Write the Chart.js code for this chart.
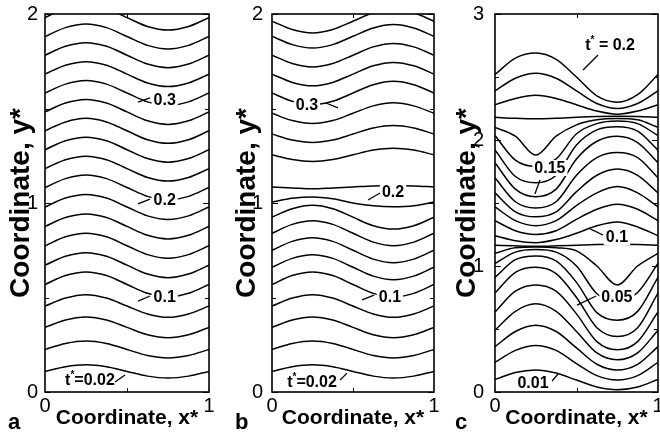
<!DOCTYPE html>
<html><head><meta charset="utf-8">
<script src="https://cdn.jsdelivr.net/npm/chart.js@4/dist/chart.umd.min.js"></script>
<style>
html,body{margin:0;padding:0;background:#fff;width:660px;height:436px;overflow:hidden}
.p{position:absolute;top:0;width:220px;height:436px}
canvas{display:block}
</style></head><body>
<div class="p" style="left:0"><canvas id="ca" width="220" height="436" style="width:220px;height:436px"></canvas></div>
<div class="p" style="left:220px"><canvas id="cb" width="220" height="436" style="width:220px;height:436px"></canvas></div>
<div class="p" style="left:440px"><canvas id="cc" width="220" height="436" style="width:220px;height:436px"></canvas></div>
<script>
// ---------- data ----------
const xGrid = [0, 0.125, 0.25, 0.375, 0.5, 0.625, 0.75, 0.875, 1];
const xTicks = [0, 1];
const yTicksAB = [0, 1, 2];
const yTicksC = [0, 1, 2, 3];

// panel a : contour lines t* = 0.02 ... 0.38 (step 0.02)
const curvesA = [
  [0.109,0.134,0.144,0.134,0.109,0.084,0.074,0.084,0.109],
  [0.225,0.257,0.270,0.257,0.225,0.193,0.180,0.193,0.225],
  [0.342,0.381,0.397,0.381,0.342,0.303,0.287,0.303,0.342],
  [0.455,0.497,0.515,0.497,0.455,0.413,0.395,0.413,0.455],
  [0.569,0.616,0.635,0.616,0.569,0.522,0.503,0.522,0.569],
  [0.671,0.718,0.737,0.718,0.671,0.624,0.605,0.624,0.671],
  [0.774,0.821,0.840,0.821,0.774,0.727,0.708,0.727,0.774],
  [0.876,0.923,0.942,0.923,0.876,0.829,0.810,0.829,0.876],
  [0.979,1.026,1.045,1.026,0.979,0.932,0.913,0.932,0.979],
  [1.082,1.129,1.148,1.129,1.082,1.035,1.016,1.035,1.082],
  [1.182,1.229,1.248,1.229,1.182,1.135,1.116,1.135,1.182],
  [1.282,1.329,1.348,1.329,1.282,1.235,1.216,1.235,1.282],
  [1.382,1.429,1.448,1.429,1.382,1.335,1.316,1.335,1.382],
  [1.482,1.529,1.548,1.529,1.482,1.435,1.416,1.435,1.482],
  [1.582,1.629,1.648,1.629,1.582,1.535,1.516,1.535,1.582],
  [1.682,1.729,1.748,1.729,1.682,1.635,1.616,1.635,1.682],
  [1.782,1.829,1.848,1.829,1.782,1.735,1.716,1.735,1.782],
  [1.881,1.928,1.947,1.928,1.881,1.834,1.815,1.834,1.881],
  [1.981,2.028,2.047,2.028,1.981,1.934,1.915,1.934,1.981]
];
const labelsA = ['t*=0.02', '0.1', '0.2', '0.3'];
const labelAtA = [[0.274,0.063],[0.73,0.503],[0.73,1.016],[0.73,1.545]];
const leaderA = [[0.427,0.053,0.488,0.090],[0.567,0.481,0.640,0.508],[0.567,0.995,0.640,1.021],[0.567,1.534,0.640,1.556]];

// panel b
const curvesB = [
  [0.109,0.134,0.144,0.134,0.109,0.084,0.074,0.084,0.109],
  [0.225,0.257,0.270,0.257,0.225,0.193,0.180,0.193,0.225],
  [0.342,0.381,0.397,0.381,0.342,0.303,0.287,0.303,0.342],
  [0.455,0.497,0.515,0.497,0.455,0.413,0.395,0.413,0.455],
  [0.569,0.616,0.635,0.616,0.569,0.522,0.503,0.522,0.569],
  [0.660,0.707,0.726,0.707,0.660,0.613,0.594,0.613,0.660],
  [0.750,0.797,0.816,0.797,0.750,0.703,0.684,0.703,0.750],
  [0.840,0.887,0.906,0.887,0.840,0.793,0.774,0.793,0.840],
  [0.925,0.970,0.988,0.970,0.925,0.880,0.862,0.880,0.925],
  [1.005,1.025,1.032,1.022,1.000,0.985,0.980,0.985,1.005],
  [1.085,1.080,1.075,1.080,1.085,1.090,1.092,1.090,1.085],
  [1.255,1.230,1.220,1.230,1.255,1.280,1.290,1.280,1.255],
  [1.365,1.333,1.320,1.333,1.365,1.397,1.410,1.397,1.365],
  [1.475,1.436,1.420,1.436,1.475,1.514,1.530,1.514,1.475],
  [1.582,1.538,1.520,1.538,1.582,1.626,1.644,1.626,1.582],
  [1.682,1.638,1.620,1.638,1.682,1.726,1.744,1.726,1.682],
  [1.782,1.738,1.720,1.738,1.782,1.826,1.844,1.826,1.782],
  [1.882,1.838,1.820,1.838,1.882,1.926,1.944,1.926,1.882],
  [1.962,1.918,1.900,1.918,1.962,2.006,2.024,2.006,1.962]
];
const labelsB = ['t*=0.02', '0.1', '0.2', '0.3'];
const labelAtB = [[0.247,0.053],[0.728,0.503],[0.747,1.058],[0.216,1.519]];
const leaderB = [[0.420,0.063,0.463,0.100],[0.556,0.487,0.630,0.513],[0.593,1.016,0.667,1.053],[0.333,1.529,0.407,1.503]];

// panel c
const curvesC = [
  [0.100,0.155,0.175,0.150,0.095,0.040,0.018,0.040,0.100],
  [0.235,0.330,0.370,0.330,0.225,0.130,0.095,0.130,0.235],
  [0.360,0.480,0.530,0.480,0.350,0.220,0.175,0.220,0.360],
  [0.490,0.640,0.700,0.640,0.480,0.310,0.255,0.310,0.490],
  [0.635,0.800,0.850,0.800,0.620,0.400,0.335,0.400,0.635],
  [0.785,0.950,0.990,0.940,0.750,0.510,0.440,0.510,0.785],
  [0.910,1.050,1.080,1.040,0.870,0.630,0.570,0.640,0.910],
  [1.020,1.110,1.130,1.110,1.000,0.780,0.720,0.790,1.020],
  [1.100,1.145,1.150,1.145,1.120,1.000,0.850,1.000,1.100],
  [1.165,1.160,1.157,1.160,1.165,1.170,1.172,1.170,1.165],
  [1.240,1.200,1.185,1.210,1.260,1.320,1.350,1.310,1.240],
  [1.360,1.280,1.250,1.280,1.370,1.450,1.490,1.450,1.360],
  [1.470,1.360,1.320,1.360,1.480,1.580,1.630,1.580,1.470],
  [1.580,1.430,1.390,1.430,1.590,1.720,1.770,1.720,1.580],
  [1.700,1.510,1.460,1.510,1.720,1.860,1.900,1.860,1.700],
  [1.820,1.610,1.550,1.610,1.850,1.990,2.030,1.980,1.820],
  [1.920,1.710,1.660,1.720,1.960,2.080,2.105,2.070,1.920],
  [2.035,1.840,1.790,1.850,2.050,2.130,2.150,2.130,2.035],
  [2.100,2.030,1.880,2.030,2.120,2.160,2.170,2.160,2.100],
  [2.180,2.172,2.168,2.172,2.180,2.186,2.188,2.186,2.180],
  [2.280,2.330,2.355,2.330,2.280,2.230,2.205,2.230,2.280],
  [2.390,2.490,2.530,2.490,2.390,2.290,2.250,2.290,2.390],
  [2.520,2.650,2.690,2.640,2.500,2.350,2.300,2.360,2.520]
];
const labelsC = ['0.01', '0.05', '0.1', '0.15', 't* = 0.2'];
const labelAtC = [[0.233,0.071],[0.748,0.754],[0.748,1.230],[0.337,1.778],[0.706,2.754]];
const leaderC = [[0.350,0.087,0.387,0.143],[0.503,0.690,0.620,0.762],[0.583,1.294,0.663,1.246],[0.276,1.683,0.245,1.571],[0.632,2.675,0.540,2.556]];

// ---------- drawing ----------
const FONT = "'Liberation Sans', Arial, Helvetica, sans-serif";

const deco = {
  id: 'deco',
  afterDatasetsDraw(chart, args, o) {
    const ctx = chart.ctx, a = chart.chartArea, sx = chart.scales.x, sy = chart.scales.y;
    ctx.save();
    // labels on curves
    o.texts.forEach((t, i) => {
      const px = sx.getPixelForValue(o.at[i][0]), py = sy.getPixelForValue(o.at[i][1]);
      const parts = t.split('*');
      ctx.font = 'bold 16px ' + FONT;
      const w0 = ctx.measureText(parts[0]).width;
      let ws = 0, w1 = 0;
      if (parts.length > 1) {
        ctx.font = 'bold 10px ' + FONT; ws = ctx.measureText('*').width;
        ctx.font = 'bold 16px ' + FONT; w1 = ctx.measureText(parts[1]).width;
      }
      const W = w0 + ws + w1;
      ctx.fillStyle = '#fff';
      ctx.fillRect(px - W / 2 - 2, py - 8, W + 4, 16);
      const L = o.leaders[i];
      ctx.strokeStyle = '#000'; ctx.lineWidth = 1.3;
      ctx.beginPath();
      ctx.moveTo(sx.getPixelForValue(L[0]), sy.getPixelForValue(L[1]));
      ctx.lineTo(sx.getPixelForValue(L[2]), sy.getPixelForValue(L[3]));
      ctx.stroke();
      ctx.fillStyle = '#000'; ctx.textBaseline = 'middle'; ctx.textAlign = 'left';
      let cx = px - W / 2;
      ctx.font = 'bold 16px ' + FONT; ctx.fillText(parts[0], cx, py + 1); cx += w0;
      if (parts.length > 1) {
        ctx.font = 'bold 10px ' + FONT; ctx.fillText('*', cx, py - 5); cx += ws;
        ctx.font = 'bold 16px ' + FONT; ctx.fillText(parts[1], cx, py + 1);
      }
    });
    // frame
    ctx.strokeStyle = '#000'; ctx.lineWidth = 1.6;
    ctx.strokeRect(a.left, a.top, a.right - a.left, a.bottom - a.top);
    // inward tick marks
    ctx.lineWidth = 1;
    for (let v = sy.min; v <= sy.max + 1e-9; v += 0.5) {
      const p = Math.round(sy.getPixelForValue(v)) + 0.5;
      const len = (Math.abs(v - Math.round(v)) < 1e-9) ? 6 : 4;
      ctx.beginPath();
      ctx.moveTo(a.left, p); ctx.lineTo(a.left + len, p);
      ctx.moveTo(a.right, p); ctx.lineTo(a.right - len, p);
      ctx.stroke();
    }
    const pm = Math.round(sx.getPixelForValue(0.5)) + 0.5;
    ctx.beginPath();
    ctx.moveTo(pm, a.bottom); ctx.lineTo(pm, a.bottom - 4);
    ctx.moveTo(pm, a.top); ctx.lineTo(pm, a.top + 4);
    ctx.stroke();
    // panel letter
    ctx.fillStyle = '#000'; ctx.textAlign = 'left'; ctx.textBaseline = 'alphabetic';
    ctx.font = 'bold 22px ' + FONT;
    ctx.fillText(o.letter, o.letterX, 429);
    ctx.restore();
  }
};

function build(id, curves, yTicks, leftW, rightPad, titlePad, tickPad, texts, at, leaders, letter, letterX) {
  const yMax = yTicks[yTicks.length - 1];
  return new Chart(document.getElementById(id), {
    type: 'scatter',
    data: {
      datasets: curves.map(c => ({
        data: xGrid.map((x, i) => ({ x: x, y: c[i] })),
        showLine: true, borderColor: '#000', borderWidth: 1.5,
        pointRadius: 0, pointHoverRadius: 0,
        cubicInterpolationMode: 'monotone', fill: false
      }))
    },
    options: {
      responsive: false, animation: false, devicePixelRatio: 1,
      events: [],
      layout: { padding: { left: 0, right: rightPad, top: 14, bottom: 0 } },
      plugins: {
        legend: { display: false }, tooltip: { enabled: false },
        deco: { texts: texts, at: at, leaders: leaders, letter: letter, letterX: letterX }
      },
      scales: {
        x: {
          type: 'linear', min: 0, max: 1,
          afterBuildTicks: s => { s.ticks = xTicks.map(v => ({ value: v })); },
          ticks: { font: { family: FONT, size: 20 }, color: '#000', padding: 2, maxRotation: 0, autoSkip: false },
          grid: { display: false, drawTicks: false }, border: { display: false },
          title: { display: true, text: 'Coordinate, x*', color: '#000',
                   font: { family: FONT, size: 21, weight: 'bold' }, padding: { top: 0, bottom: 5 } },
          afterFit: s => { s.height = 44; s.paddingLeft = 0; s.paddingRight = 0; }
        },
        y: {
          type: 'linear', min: 0, max: yMax,
          afterBuildTicks: s => { s.ticks = yTicks.map(v => ({ value: v })); },
          ticks: { font: { family: FONT, size: 20 }, color: '#000', padding: tickPad, autoSkip: false },
          grid: { display: false, drawTicks: false }, border: { display: false },
          title: { display: true, text: 'Coordinate, y*', color: '#000',
                   font: { family: FONT, size: 28, weight: 'bold' }, padding: { top: titlePad, bottom: 0 } },
          afterFit: s => { s.width = leftW; s.paddingTop = 0; s.paddingBottom = 0; }
        }
      }
    },
    plugins: [deco]
  });
}

build('ca', curvesA, yTicksAB, 45, 11, 4, 7, labelsA, labelAtA, leaderA, 'a', 8);
build('cb', curvesB, yTicksAB, 52, 6, 10, 9, labelsB, labelAtB, leaderB, 'b', 15);
build('cc', curvesC, yTicksC, 55, 2, 10, 11, labelsC, labelAtC, leaderC, 'c', 15);
</script>
</body></html>
